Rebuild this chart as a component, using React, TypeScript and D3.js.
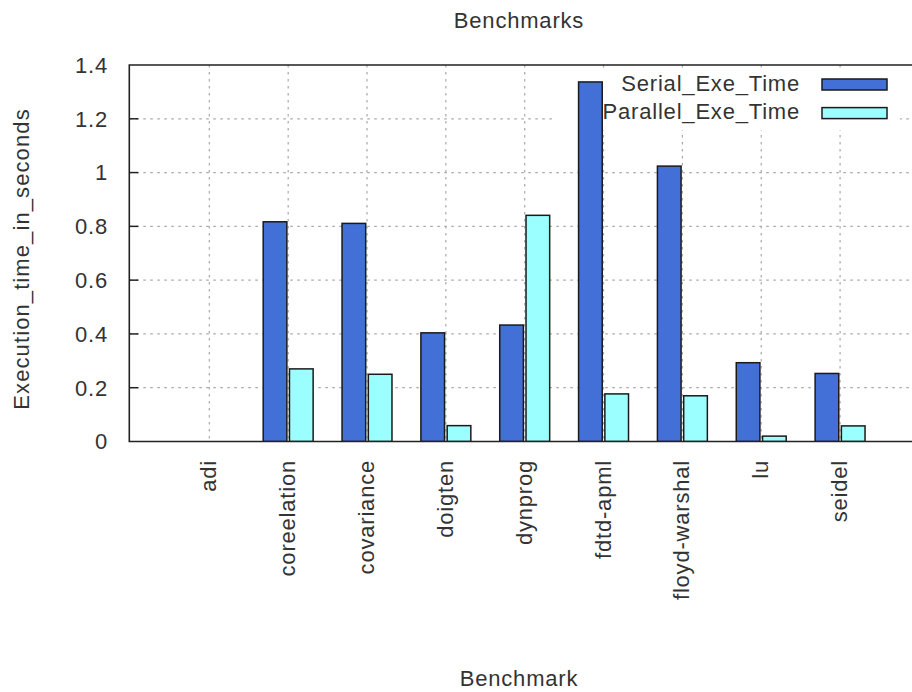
import React from "react";
import * as d3 from "d3";

const categories = ["adi", "coreelation", "covariance", "doigten", "dynprog", "fdtd-apml", "floyd-warshal", "lu", "seidel"];
const serialValues = [0, 0.817, 0.811, 0.404, 0.433, 1.337, 1.024, 0.293, 0.253];
const parallelValues = [0, 0.27, 0.25, 0.059, 0.841, 0.177, 0.17, 0.02, 0.058];
const seriesNames = ["Serial_Exe_Time", "Parallel_Exe_Time"];
const seriesColors = ["#4370d6", "#9bffff"];
const yTicks = [0, 0.2, 0.4, 0.6, 0.8, 1, 1.2, 1.4];
const title = "Benchmarks";
const xTitle = "Benchmark";
const yTitle = "Execution_time_in_seconds";

const W = 912;
const H = 692;
const FONT = "'Liberation Sans', Arial, sans-serif";
const TXT = "#333";

export default function App() {
  const left = 129.3;
  const top = 65;
  const bottom = 441.5;
  const right = 918;
  const x = d3.scaleLinear().domain([-1.015, 8.93]).range([left, 913.4]);
  const y = d3.scaleLinear().domain([0, 1.4]).range([bottom, top]);
  const unit = x(1) - x(0);
  const barW = unit * 0.3;
  const offs = [-unit / 6, unit / 6];
  const series = [serialValues, parallelValues];
  const key = { x0: 552, x1: 900, y0: 68, y1: 130 };

  return (
    <svg width={W} height={H} style={{ position: "absolute", left: 0, top: 0 }} fontFamily={FONT}>
      <defs>
        <mask id="gridmask">
          <rect x={0} y={0} width={W} height={H} fill="white" />
          <rect x={key.x0} y={key.y0} width={key.x1 - key.x0} height={key.y1 - key.y0} fill="black" />
        </mask>
        <clipPath id="plotclip">
          <rect x={left} y={top} width={right - left} height={bottom - top} />
        </clipPath>
      </defs>
      <rect x={0} y={0} width={W} height={H} fill="white" />
      {/* grid */}
      <g mask="url(#gridmask)" stroke="#a8a8a8" strokeWidth={1.2} strokeDasharray="2.5,4.5">
        {yTicks.slice(1, -1).map((t) => (
          <line key={"gy" + t} x1={left} x2={right} y1={y(t)} y2={y(t)} />
        ))}
        {categories.map((c, i) => (
          <line key={"gx" + c} x1={x(i)} x2={x(i)} y1={top} y2={bottom} />
        ))}
      </g>
      {/* bars */}
      <g clipPath="url(#plotclip)">
        {series.map((vals, s) =>
          vals.map((v, i) =>
            v > 0 ? (
              <rect
                key={"b" + s + "-" + i}
                x={x(i) + offs[s] - barW / 2}
                y={y(v)}
                width={barW}
                height={y(0) - y(v)}
                fill={seriesColors[s]}
                stroke="#1a1a1a"
                strokeWidth={1.5}
              />
            ) : null
          )
        )}
      </g>
      {/* border */}
      <path d={`M${right},${top}H${left}V${bottom}H${right}`} fill="none" stroke="#222" strokeWidth={1.6} />
      {/* y ticks */}
      {yTicks.map((t) => (
        <g key={"yt" + t}>
          {t > 0 && t < 1.4 ? <line x1={left} x2={left + 9} y1={y(t)} y2={y(t)} stroke="#222" strokeWidth={1.5} /> : null}
          <text x={108} y={y(t)} dy="0.36em" textAnchor="end" fontSize={22} fill={TXT} letterSpacing={0.8}>
            {String(t)}
          </text>
        </g>
      ))}
      {/* x labels */}
      {categories.map((c, i) => (
        <text
          key={"xl" + c}
          transform={`translate(${x(i) + 7},460) rotate(-90)`}
          textAnchor="end"
          fontSize={22}
          fill={TXT}
          letterSpacing={0.8}
        >
          {c}
        </text>
      ))}
      {/* titles */}
      <text x={519} y={28} textAnchor="middle" fontSize={22} fill={TXT} letterSpacing={0.8}>
        {title}
      </text>
      <text x={519} y={686} textAnchor="middle" fontSize={22} fill={TXT} letterSpacing={0.8}>
        {xTitle}
      </text>
      <text transform={`translate(29,259) rotate(-90)`} textAnchor="middle" fontSize={22} fill={TXT} letterSpacing={1.1}>
        {yTitle}
      </text>
      {/* legend */}
      {seriesNames.map((n, s) => (
        <g key={"lg" + n}>
          <text x={800} y={90.7 + s * 28.6} textAnchor="end" fontSize={22} fill={TXT} letterSpacing={0.8}>
            {n}
          </text>
          <rect x={822} y={79 + s * 28.6} width={65} height={11} fill={seriesColors[s]} stroke="#1a1a1a" strokeWidth={1.5} />
        </g>
      ))}
    </svg>
  );
}
